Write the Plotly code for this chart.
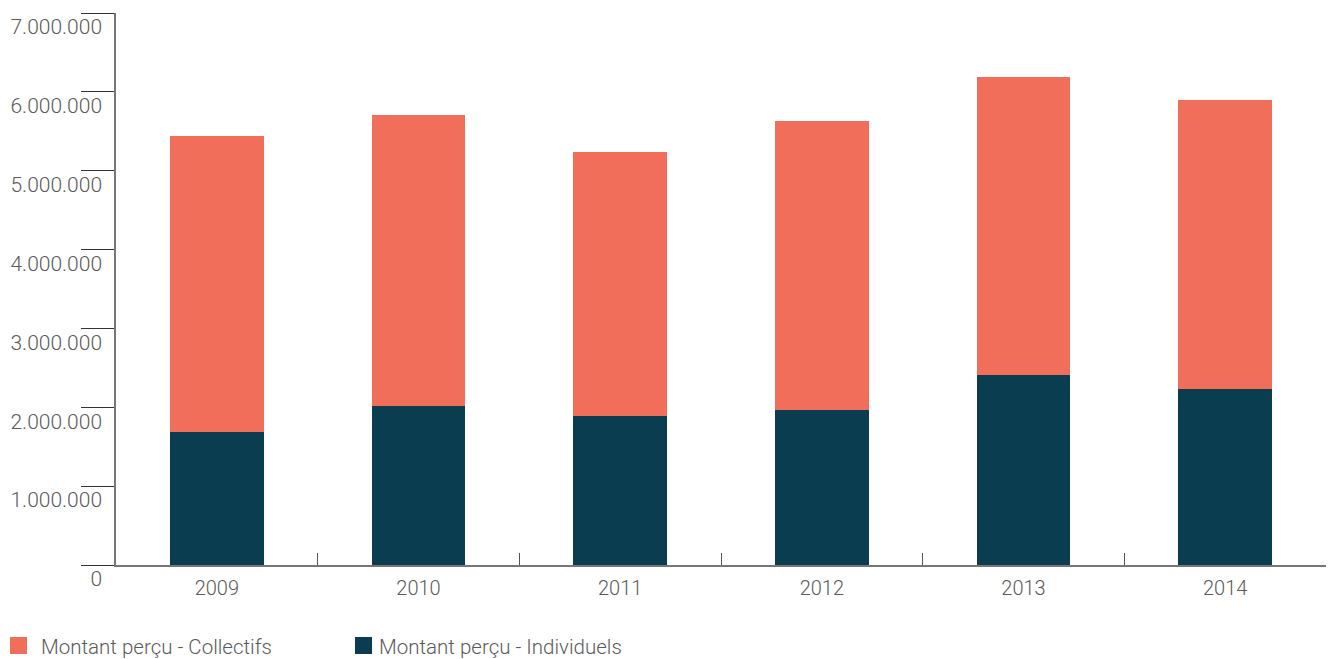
import plotly.graph_objects as go

# Montants perçus par année (en euros)
years = ["2009", "2010", "2011", "2012", "2013", "2014"]
individuels = [1690000, 2015000, 1890000, 1965000, 2410000, 2230000]
collectifs = [3750000, 3690000, 3345000, 3665000, 3780000, 3665000]

y_ticks = [0, 1000000, 2000000, 3000000, 4000000, 5000000, 6000000, 7000000]

COL_ORANGE = "#F06E5A"
COL_TEAL = "#0B3D50"
TEXT_GREY = "#5a5a5a"
FONT = "Roboto"

W, H = 1334, 659
M_L, M_R, M_T, M_B = 116, 8, 13, 94
PLOT_W = W - M_L - M_R
PLOT_H = H - M_T - M_B

series = [
    ("Montant perçu - Individuels", individuels, COL_TEAL),
    ("Montant perçu - Collectifs", collectifs, COL_ORANGE),
]

fig = go.Figure()
for name, values, color in series:
    fig.add_trace(go.Bar(
        x=years, y=values, name=name, showlegend=False,
        marker=dict(color=color, line=dict(width=0)),
    ))


def px_to_paper_x(px):
    return (px - M_L) / PLOT_W


def px_to_paper_y(py):
    return (H - M_B - py) / PLOT_H


# Légende en bas à gauche : carré de couleur + libellé
legend_entries = [series[1], series[0]]
legend_square_left = [10, 355]
legend_text_left = [39, 377]
for (name, _, color), sq, tx in zip(legend_entries, legend_square_left, legend_text_left):
    fig.add_shape(
        type="rect", xref="paper", yref="paper",
        x0=px_to_paper_x(sq), x1=px_to_paper_x(sq + 17),
        y0=px_to_paper_y(637), y1=px_to_paper_y(654),
        fillcolor=color, line=dict(width=0),
    )
    fig.add_annotation(
        text=name, xref="paper", yref="paper",
        x=px_to_paper_x(tx), y=px_to_paper_y(647),
        xanchor="left", yanchor="middle", showarrow=False,
        font=dict(family=FONT, size=20.5, color=TEXT_GREY, weight=300),
    )

fig.update_layout(
    width=W, height=H,
    barmode="stack", bargap=0.534,
    separators=",.",
    showlegend=False,
    plot_bgcolor="white", paper_bgcolor="white",
    margin=dict(l=M_L, r=M_R, t=M_T, b=M_B, autoexpand=False),
    font=dict(family=FONT, size=20, color=TEXT_GREY, weight=300),
    xaxis=dict(
        type="category", showgrid=False, zeroline=False,
        showline=True, linecolor="#777777", linewidth=1.5,
        ticks="inside", tickson="boundaries", ticklen=12, tickwidth=1.2,
        tickcolor="#555555", ticklabelstandoff=4,
        tickfont=dict(family=FONT, size=20, color=TEXT_GREY, weight=300),
    ),
    yaxis=dict(
        range=[0, 7000000], tickvals=y_ticks, tickformat=",d",
        showgrid=False, zeroline=False,
        showline=True, linecolor="#777777", linewidth=1.5,
        ticks="outside", ticklen=33, tickwidth=1.2, tickcolor="#333333",
        ticklabelstandoff=-25, ticklabelshift=14,
        tickfont=dict(family=FONT, size=21, color=TEXT_GREY, weight=300),
    ),
)

fig.write_html("out.html")
